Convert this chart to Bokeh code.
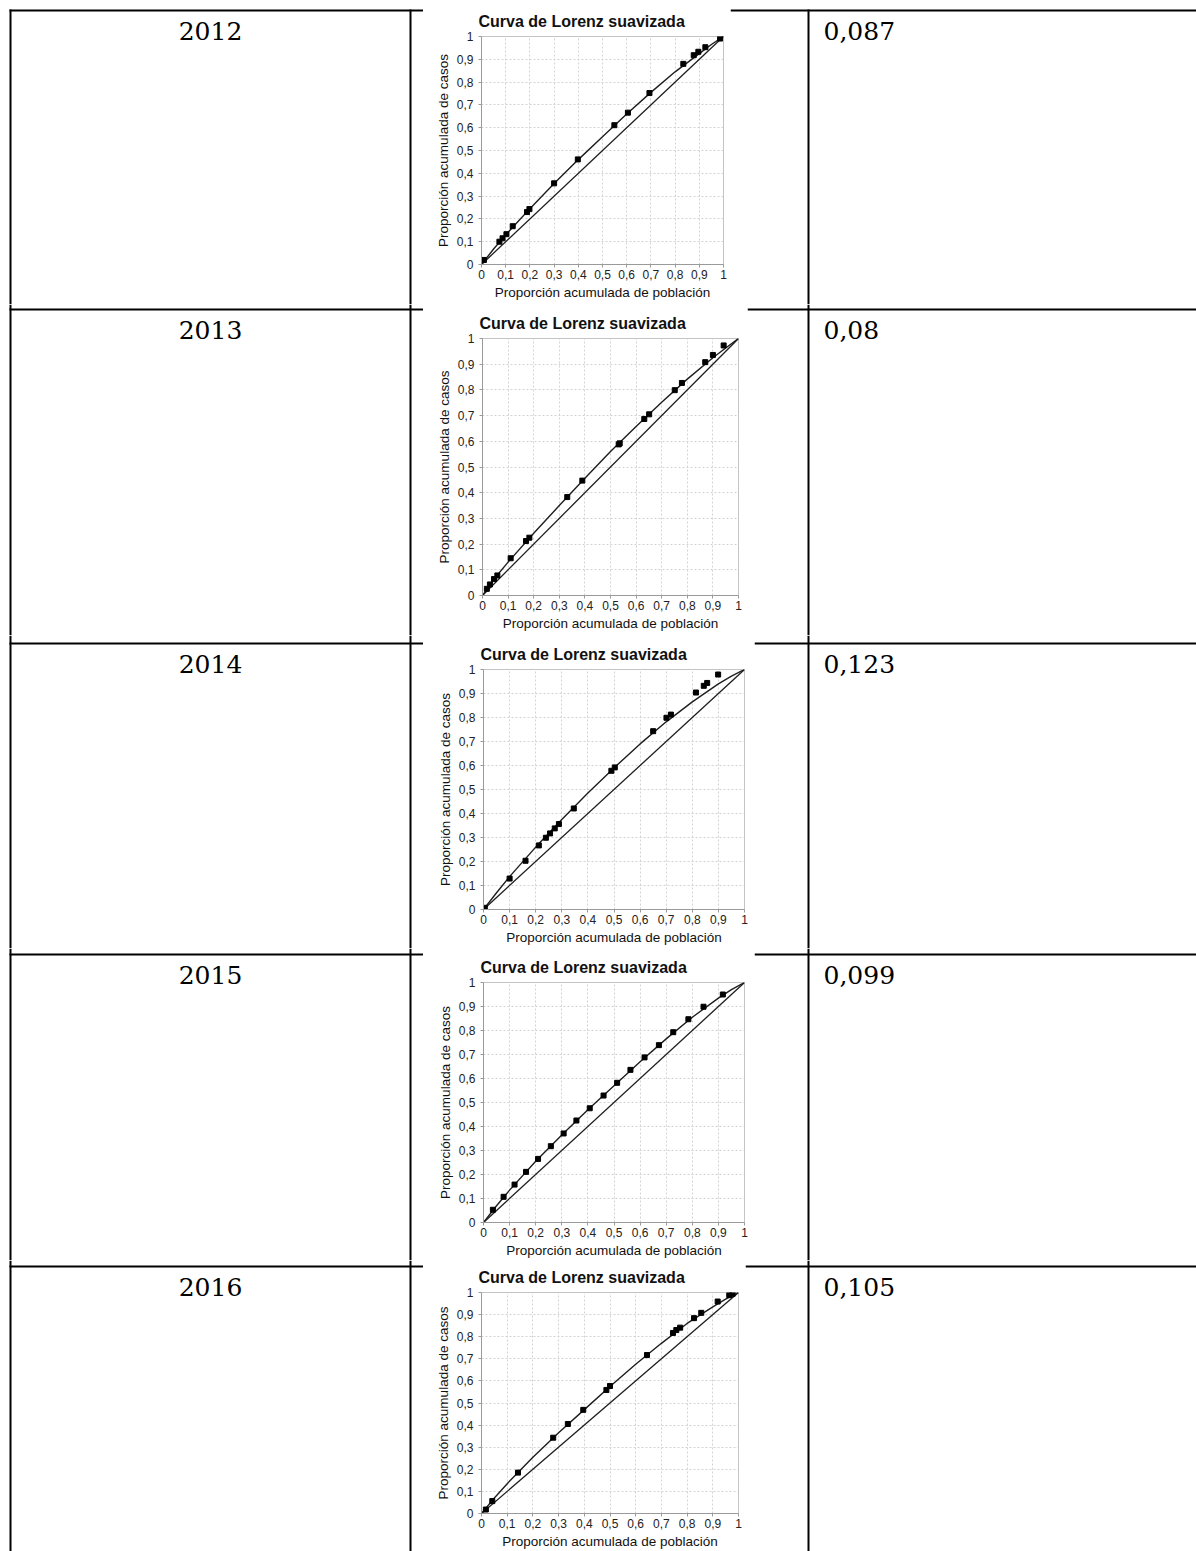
from bokeh.plotting import figure
from bokeh.layouts import row, column
from bokeh.models import Range1d, FixedTicker, CustomJSTickFormatter
from bokeh.embed import file_html
from bokeh.resources import INLINE
from bokeh.core.properties import value

# ---- table content -------------------------------------------------------
years = ["2012", "2013", "2014", "2015", "2016"]
gini_labels = ["0,087", "0,08", "0,123", "0,099", "0,105"]

# ---- Lorenz data: observed points (cumulative population, cumulative cases)
pop_2012 = [0.01, 0.074, 0.087, 0.103, 0.129, 0.188, 0.198, 0.30, 0.398, 0.549,
            0.605, 0.694, 0.834, 0.877, 0.896, 0.925, 0.986]
cas_2012 = [0.02, 0.10, 0.115, 0.133, 0.168, 0.23, 0.243, 0.356, 0.461, 0.611,
            0.666, 0.752, 0.88, 0.918, 0.933, 0.953, 0.991]

pop_2013 = [0.017, 0.029, 0.045, 0.058, 0.11, 0.17, 0.183, 0.331, 0.39, 0.532,
            0.536, 0.632, 0.651, 0.751, 0.779, 0.87, 0.90, 0.942]
cas_2013 = [0.026, 0.043, 0.064, 0.078, 0.145, 0.212, 0.225, 0.383, 0.447, 0.588,
            0.592, 0.687, 0.705, 0.799, 0.827, 0.908, 0.936, 0.973]

pop_2014 = [0.005, 0.10, 0.161, 0.212, 0.239, 0.255, 0.273, 0.289, 0.346, 0.49,
            0.503, 0.65, 0.701, 0.718, 0.814, 0.844, 0.857, 0.899]
cas_2014 = [0.007, 0.129, 0.203, 0.267, 0.299, 0.317, 0.338, 0.356, 0.421, 0.578,
            0.592, 0.743, 0.799, 0.812, 0.904, 0.932, 0.944, 0.979]

pop_2015 = [0.036, 0.077, 0.119, 0.163, 0.209, 0.258, 0.307, 0.356, 0.407, 0.46,
            0.512, 0.563, 0.617, 0.672, 0.727, 0.785, 0.843, 0.917]
cas_2015 = [0.053, 0.107, 0.158, 0.211, 0.265, 0.318, 0.371, 0.425, 0.476, 0.529,
            0.582, 0.636, 0.688, 0.739, 0.793, 0.847, 0.899, 0.95]

pop_2016 = [0.017, 0.042, 0.142, 0.279, 0.336, 0.396, 0.486, 0.50, 0.644, 0.745,
            0.758, 0.773, 0.827, 0.855, 0.919, 0.964, 0.977]
cas_2016 = [0.018, 0.056, 0.185, 0.343, 0.405, 0.469, 0.559, 0.577, 0.717, 0.817,
            0.83, 0.841, 0.884, 0.908, 0.959, 0.988, 0.994]

# ---- smoothed Lorenz curves on a common population grid -------------------
curve_pop = [0, 0.05, 0.1, 0.2, 0.3, 0.4, 0.5, 0.6, 0.7, 0.8, 0.9, 0.95, 1]
curve_2012 = [0, 0.068, 0.13, 0.245, 0.355, 0.46, 0.56, 0.66, 0.755, 0.845, 0.925, 0.965, 1]
curve_2013 = [0, 0.07, 0.13, 0.242, 0.35, 0.456, 0.56, 0.658, 0.752, 0.842, 0.925, 0.963, 1]
curve_2014 = [0, 0.07, 0.137, 0.26, 0.375, 0.485, 0.59, 0.69, 0.782, 0.865, 0.94, 0.972, 1]
curve_2015 = [0, 0.07, 0.135, 0.255, 0.365, 0.47, 0.57, 0.67, 0.765, 0.855, 0.935, 0.97, 1]
curve_2016 = [0, 0.07, 0.135, 0.255, 0.365, 0.47, 0.575, 0.675, 0.77, 0.86, 0.935, 0.97, 1]

equality_x = [0, 1]
equality_y = [0, 1]
tick_values = [0, 0.1, 0.2, 0.3, 0.4, 0.5, 0.6, 0.7, 0.8, 0.9, 1]

points = {
    "2012": (pop_2012, cas_2012), "2013": (pop_2013, cas_2013),
    "2014": (pop_2014, cas_2014), "2015": (pop_2015, cas_2015),
    "2016": (pop_2016, cas_2016),
}
curves = {"2012": curve_2012, "2013": curve_2013, "2014": curve_2014,
          "2015": curve_2015, "2016": curve_2016}

# ---- page geometry (pixels) ----------------------------------------------
PAGE_W, PAGE_H = 1196, 1551
BAND_TOPS = [0, 304, 635, 948, 1260]   # horizontal bands, one per table row
RULES = [10, 309, 643, 954, 1266]      # table rules (global y)
X_LEFT, X_SEP1, X_SEP2 = 10, 410, 808
BOX_L = 423                            # left edge of the chart boxes
BOX_R = [730, 747, 754, 754, 745]
FRAME_X0 = [481, 482, 483, 483, 481]
FRAME_X1 = [723, 738, 744, 744, 738]
FRAME_Y0 = [36, 338, 669, 982, 1292]
FRAME_Y1 = [264, 595, 909, 1222, 1513]
TEXT_DY = 20                           # cell text baseline below the rule

SERIF = value("DejaVu Serif")
RULE = dict(line_color="black", line_width=2)


def band_height(i):
    nxt = BAND_TOPS[i + 1] if i + 1 < len(BAND_TOPS) else PAGE_H
    return nxt - BAND_TOPS[i]


def blank(width, height, x0, x1):
    p = figure(width=width, height=height, x_range=Range1d(x0, x1),
               y_range=Range1d(height, 0), output_backend="svg",
               toolbar_location=None, min_border=0, frame_align=False,
               x_axis_location=None, y_axis_location=None)
    p.outline_line_color = None
    p.grid.visible = False
    p.background_fill_color = "white"
    p.border_fill_color = "white"
    return p


def year_cell(i):
    h = band_height(i)
    ly = RULES[i] - BAND_TOPS[i]
    v0 = ly - 1 if i == 0 else 0
    p = blank(BOX_L, h, 0, BOX_L)
    p.segment(x0=[X_LEFT - 1, X_LEFT, X_SEP1], y0=[ly, v0, v0],
              x1=[BOX_L, X_LEFT, X_SEP1], y1=[ly, h, h], **RULE)
    p.text(x=[(X_LEFT + X_SEP1) / 2], y=[ly + TEXT_DY], text=[years[i]],
           text_font=SERIF, text_font_size="25px", text_align="center",
           text_baseline="alphabetic", text_color="black")
    return p


def value_cell(i):
    h = band_height(i)
    ly = RULES[i] - BAND_TOPS[i]
    v0 = ly - 1 if i == 0 else 0
    r = BOX_R[i]
    p = blank(PAGE_W - r, h, r, PAGE_W)
    p.segment(x0=[r, X_SEP2], y0=[ly, v0], x1=[PAGE_W, X_SEP2], y1=[ly, h], **RULE)
    p.text(x=[823], y=[ly + TEXT_DY], text=[gini_labels[i]],
           text_font=SERIF, text_font_size="25px", text_align="left",
           text_baseline="alphabetic", text_color="black")
    return p


def lorenz_panel(i):
    year = years[i]
    top = BAND_TOPS[i]
    h = band_height(i)
    p = figure(width=BOX_R[i] - BOX_L, height=h,
               x_range=Range1d(0, 1), y_range=Range1d(0, 1),
               output_backend="svg", toolbar_location=None, frame_align=False,
               title="Curva de Lorenz suavizada",
               min_border_left=FRAME_X0[i] - BOX_L,
               min_border_right=BOX_R[i] - FRAME_X1[i],
               min_border_top=FRAME_Y0[i] - top,
               min_border_bottom=top + h - FRAME_Y1[i])
    p.background_fill_color = "white"
    p.border_fill_color = "white"
    p.outline_line_color = "#c4c4c4"

    p.title.text_font = "Liberation Sans"
    p.title.text_font_size = "16px"
    p.title.text_font_style = "bold"
    p.title.text_color = "#111111"
    p.title.align = "left"
    p.title.offset = -3
    p.title.standoff = 13

    fmt = CustomJSTickFormatter(code="return tick.toFixed(1).replace('.', ',').replace(/,0$/, '');")
    for ax in (p.xaxis, p.yaxis):
        ax.ticker = FixedTicker(ticks=tick_values)
        ax.formatter = fmt
        ax.axis_line_color = "#9a9a9a"
        ax.major_tick_line_color = "#9a9a9a"
        ax.minor_tick_line_color = None
        ax.major_tick_in = 0
        ax.major_tick_out = 3
        ax.major_label_text_font = "Liberation Sans"
        ax.major_label_text_font_size = "12px"
        ax.major_label_text_color = "#222222"
        ax.axis_label_text_font = "Liberation Sans"
        ax.axis_label_text_font_size = "13.5px"
        ax.axis_label_text_font_style = "normal"
        ax.axis_label_text_color = "#111111"
    p.xaxis.axis_label = "Proporción acumulada de población"
    p.yaxis.axis_label = "Proporción acumulada de casos"
    p.xaxis.major_label_standoff = 2
    p.xaxis.axis_label_standoff = 3
    p.yaxis.major_label_standoff = 5
    p.yaxis.axis_label_standoff = 3

    p.grid.grid_line_color = "#d2d2d2"
    p.grid.grid_line_dash = "2 2"
    p.grid.grid_line_width = 1

    p.line(equality_x, equality_y, line_color="#1e1e1e", line_width=1.3)
    p.line(curve_pop, curves[year], line_color="#1e1e1e", line_width=1.4)
    px, py = points[year]
    p.scatter(px, py, marker="square", size=5, fill_color="black", line_color="black")
    return p


rows = []
for i in range(len(years)):
    rows.append(row(year_cell(i), lorenz_panel(i), value_cell(i), spacing=0))

layout = column(*rows, spacing=0)

open("out.html", "w").write(file_html(layout, INLINE))
